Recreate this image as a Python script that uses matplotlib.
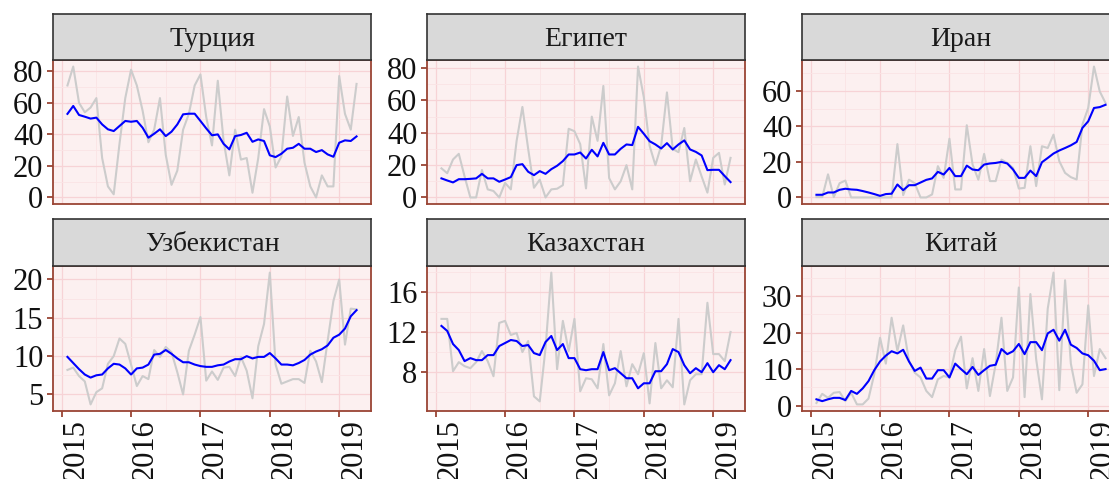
import numpy as np
import pandas as pd
import matplotlib
matplotlib.use("Agg")
import matplotlib.pyplot as plt
from matplotlib.ticker import FixedLocator, AutoMinorLocator

plt.rcParams['font.family'] = ['Liberation Serif', 'DejaVu Serif']

# monthly observations, Feb 2015 .. Apr 2019
months = pd.date_range('2015-02-01', periods=51, freq='MS')

countries = ['Турция', 'Египет', 'Иран', 'Узбекистан', 'Казахстан', 'Китай']

turkey_raw = [71, 83, 60, 54, 57, 63, 25, 7, 2, 34,
              63, 81, 71, 55, 35, 43, 63, 27, 8, 17,
              43, 53, 71, 78, 51, 33, 74, 36, 14, 43,
              24, 25, 3, 25, 56, 45, 19, 26, 64, 39,
              51, 22, 7, 0, 14, 7, 7, 77, 53, 43, 72]
turkey_avg = [53, 58, 52.3, 51.2, 50, 50.6, 46.3, 43.2, 42.1, 45.3,
              48.5, 48, 48.5, 44.2, 37.9, 40.4, 43.2, 38.9, 41.7, 46.3,
              52.7, 53.1, 53.1, 48.5, 43.8, 39.4, 40, 34, 30.5, 38.9,
              39.6, 41, 35.3, 36.8, 35.8, 26.7, 25.6, 27.7, 30.9, 31.5,
              34, 30.9, 30.9, 28.8, 30, 27.3, 25.8, 34.7, 36.2, 35.8, 38.7]

egypt_raw = [18, 15, 23.5, 27, 13, 0, 0, 17, 5, 4,
             0, 9, 5, 35, 56, 30, 6, 11, 0, 5,
             5.4, 7.6, 42.5, 41, 33, 5.6, 50, 35, 69, 12,
             5, 10, 20, 5, 81, 62, 32, 20, 32, 65,
             30, 28, 43, 10, 23.5, 13, 3, 24.5, 27.6, 8, 24.5]
egypt_avg = [11.8, 10.5, 9.3, 11.3, 11.3, 11.5, 11.8, 14.6, 11.8, 11.8,
             9.7, 11.1, 12.6, 20, 20.6, 15.9, 13.8, 16.3, 14.6, 17.5,
             19.6, 22.5, 26.6, 26.6, 27.8, 24.1, 29.5, 25.4, 33.8, 26.6,
             26.6, 30.1, 32.8, 32.4, 43.7, 39.4, 34.8, 32.8, 30.3, 33.6,
             29.7, 32.8, 35.3, 29.7, 28.2, 26, 16.9, 17.1, 17.1, 13.2, 9.5]

iran_raw = [0.2, 0.2, 13, 0.2, 8, 9.5, 0, 0, 0, 0,
            0, 0, 0, 0, 30, 1.3, 10, 8, 0, 0,
            1.7, 17.6, 11, 33, 4.5, 4.5, 40.6, 18.5, 10, 24.5,
            9.2, 9.2, 21.3, 19.4, 16.6, 5, 5.4, 28.8, 6.4, 28.8,
            27.8, 35.3, 20.4, 13.8, 11.4, 10.1, 41, 50.3, 73.6, 59.6, 53.1]
iran_avg = [1.5, 1.5, 2.8, 2.8, 4.3, 4.9, 4.5, 4.3, 3.6, 2.8,
            1.9, 0.9, 1.9, 2.1, 7.3, 4.1, 6.9, 6.9, 8.4, 9.9,
            10.7, 14.4, 12.9, 16.6, 12, 12, 17.9, 15.7, 15.3, 18.5,
            19.1, 19.4, 20, 19.1, 15.7, 11, 11, 15.1, 12, 19.8,
            22.2, 24.7, 26.4, 27.8, 29.3, 31.2, 39.1, 42.8, 50.3, 50.8, 52.1]

uzb_raw = [8.2, 8.5, 7.4, 6.7, 3.7, 5.3, 5.8, 9, 10, 12.3,
           11.6, 8.9, 6.1, 7.4, 7, 10.8, 9.9, 11.2, 10.5, 7.9,
           5, 10.7, 12.8, 15.1, 6.8, 8, 6.9, 8.5, 8.6, 7.4,
           9.9, 8.1, 4.5, 11.3, 14.2, 20.9, 8.9, 6.4, 6.7, 7,
           7, 6.5, 10.7, 9.3, 6.6, 12, 17.2, 20, 11.5, 16.2, 16.1]
uzb_avg = [9.9, 9.1, 8.3, 7.6, 7.2, 7.5, 7.6, 8.4, 9, 8.9,
           8.4, 7.6, 8.4, 8.5, 8.9, 10.2, 10.3, 10.8, 10.3, 9.7,
           9.2, 9.2, 8.9, 8.7, 8.6, 8.6, 8.8, 8.9, 9.3, 9.6,
           9.6, 10, 9.7, 9.9, 9.9, 10.4, 9.7, 8.9, 8.9, 8.8,
           9.1, 9.5, 10.2, 10.6, 10.9, 11.4, 12.4, 12.8, 13.6, 15.2, 16]

kaz_raw = [13.3, 13.3, 8.1, 9, 8.6, 8.4, 9, 10.1, 9.1, 7.6,
           12.9, 13.1, 11.7, 11.9, 10, 11.1, 5.6, 5.1, 10.4, 17.9,
           8.3, 13.1, 10.1, 13.3, 6.1, 7.4, 7.3, 6.4, 10.8, 5.7,
           6.9, 10.1, 6.6, 8.8, 7.8, 9.9, 4.9, 10.9, 6.4, 7.2,
           6.5, 13.3, 4.8, 7.2, 7.8, 7.8, 14.9, 9.8, 9.8, 9.1, 12]
kaz_avg = [12.6, 12.1, 10.8, 10.2, 9.1, 9.4, 9.2, 9.2, 9.7, 9.7,
           10.6, 10.9, 11.2, 11.1, 10.6, 10.7, 9.9, 9.7, 11, 11.6,
           10.2, 10.8, 9.4, 9.4, 8.3, 8.2, 8.3, 8.3, 10, 8.2,
           8.4, 7.9, 7.4, 7.4, 6.4, 6.9, 6.9, 8.1, 8.1, 8.8,
           10.3, 10, 8.7, 7.9, 8.4, 8, 8.9, 8, 8.7, 8.3, 9.2]

china_raw = [0.7, 3.2, 2.1, 3.5, 3.7, 1.2, 3.5, 0.3, 0.3, 1.9,
             8.6, 18.6, 11.5, 24.1, 15, 22, 12.3, 9, 7.7, 4,
             2.3, 7.2, 8.1, 7.7, 15.2, 18.9, 4.7, 13, 4, 15.5,
             2.6, 11.4, 24.1, 4, 7.7, 32.4, 2.3, 30.6, 12.7, 1.7,
             26.6, 36.5, 4.2, 34.4, 11.5, 3.5, 5.8, 27.5, 8.1, 15.5, 13]
china_avg = [1.7, 1.2, 1.7, 2.1, 2.1, 1.5, 4, 3.2, 4.7, 6.7,
             9.7, 12.1, 13.7, 14.9, 14.3, 15.3, 12.1, 9.5, 10.4, 7.4,
             7.4, 9.7, 9.7, 7.7, 11.5, 10, 8.6, 10.6, 8.4, 9.7,
             10.9, 11.2, 15.5, 14.1, 14.9, 16.9, 14.1, 17.4, 17.4, 15.2,
             19.8, 20.8, 17.8, 20.8, 16.7, 15.8, 14.3, 13.8, 12.3, 9.7, 10]

raw_series = [turkey_raw, egypt_raw, iran_raw, uzb_raw, kaz_raw, china_raw]
avg_series = [turkey_avg, egypt_avg, iran_avg, uzb_avg, kaz_avg, china_avg]
y_breaks = [[0, 20, 40, 60, 80], [0, 20, 40, 60, 80], [0, 20, 40, 60],
            [5, 10, 15, 20], [8, 12, 16], [0, 10, 20, 30]]
year_breaks = [2015, 2016, 2017, 2018, 2019]

BORDER = '#9A4434'
PANEL_BG = '#FCF0F0'
GRID_MAJ = '#F7D3D6'
GRID_MIN = '#FAE4E5'

W, H = 1109, 479
fig = plt.figure(figsize=(W / 100, H / 100), dpi=100)

col_left = [53, 427, 802]
panel_w = 318
row_strip_top = [14, 219]
row_plot_top = [60, 266]
row_plot_bot = [204, 411]

x = months.year + (months.month - 1) / 12.0
xlo = x.min() - 0.05 * (x.max() - x.min())
xhi = x.max() + 0.05 * (x.max() - x.min())

for i, name in enumerate(countries):
    r, c = divmod(i, 3)
    left = col_left[c]
    ax = fig.add_axes([left / W, 1 - row_plot_bot[r] / H, panel_w / W,
                       (row_plot_bot[r] - row_plot_top[r]) / H])
    sax = fig.add_axes([left / W, 1 - row_plot_top[r] / H, panel_w / W,
                        (row_plot_top[r] - row_strip_top[r]) / H])

    raw = np.array(raw_series[i])
    avg = np.array(avg_series[i])
    ax.set_facecolor(PANEL_BG)
    ax.plot(x, raw, color='#CCCCCC', lw=1.5, zorder=3)
    ax.plot(x, avg, color='#0000FF', lw=1.5, zorder=4)

    lo = min(raw.min(), avg.min())
    hi = max(raw.max(), avg.max())
    pad = 0.05 * (hi - lo)
    ax.set_ylim(lo - pad, hi + pad)
    ax.set_xlim(xlo, xhi)

    ax.yaxis.set_major_locator(FixedLocator(y_breaks[i]))
    ax.yaxis.set_minor_locator(AutoMinorLocator(2))
    ax.xaxis.set_major_locator(FixedLocator(year_breaks))
    ax.xaxis.set_minor_locator(AutoMinorLocator(2))
    ax.grid(which='major', color=GRID_MAJ, lw=0.9, zorder=1)
    ax.grid(which='minor', color=GRID_MIN, lw=0.6, zorder=1)
    ax.set_axisbelow(True)

    for sp in ax.spines.values():
        sp.set_color(BORDER)
        sp.set_linewidth(1.3)

    ax.tick_params(axis='y', which='major', length=4, width=1.3, color=BORDER,
                   labelsize=22, labelcolor='#111111', pad=3)
    ax.tick_params(which='minor', length=0)
    if r == 1:
        ax.tick_params(axis='x', which='major', length=4, width=1.3,
                       color=BORDER, labelsize=22, labelcolor='#111111', pad=2)
        ax.set_xticks(year_breaks)
        ax.set_xticklabels([str(yv) for yv in year_breaks], rotation=90,
                           ha='left', va='top')
    else:
        ax.tick_params(axis='x', which='major', length=0, labelbottom=False)

    sax.set_facecolor('#D9D9D9')
    sax.set_xticks([])
    sax.set_yticks([])
    for sp in sax.spines.values():
        sp.set_color('#333333')
        sp.set_linewidth(1.2)
    sax.text(0.5, 0.45, name, transform=sax.transAxes, ha='center',
             va='center', fontsize=20, color='#1A1A1A')

fig.savefig('out.png', dpi=100)
